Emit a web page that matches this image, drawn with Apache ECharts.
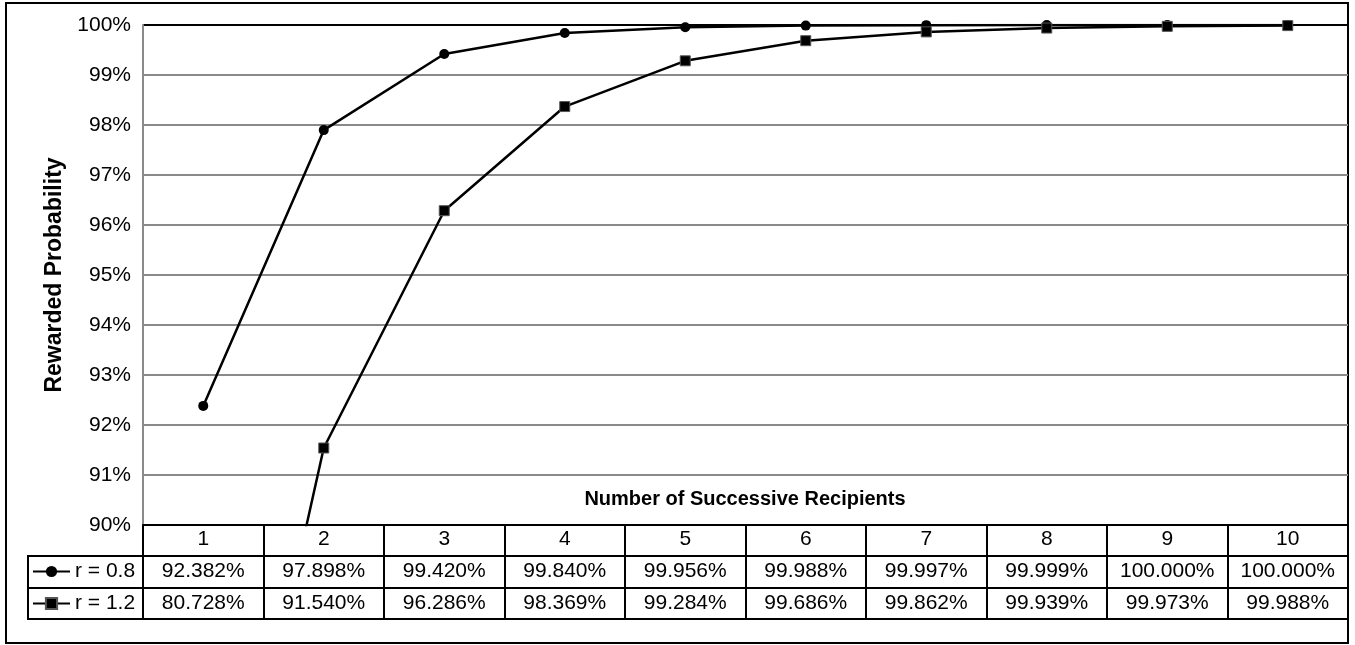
<!DOCTYPE html>
<html>
<head>
<meta charset="utf-8">
<script src="https://cdn.jsdelivr.net/npm/echarts@6/dist/echarts.min.js"></script>
<style>
  html, body { margin: 0; padding: 0; background: #fff; }
  #main { width: 1355px; height: 645px; }
</style>
</head>
<body>
<div id="main"></div>
<script>
const categories = ['1', '2', '3', '4', '5', '6', '7', '8', '9', '10'];
const seriesNames = ['r = 0.8', 'r = 1.2'];
const r08Values = [92.382, 97.898, 99.420, 99.840, 99.956, 99.988, 99.997, 99.999, 100.000, 100.000];
const r12Values = [80.728, 91.540, 96.286, 98.369, 99.284, 99.686, 99.862, 99.939, 99.973, 99.988];
const yMin = 90;
const yMax = 100;
const yStep = 1;

const FONT = "'Liberation Sans', Arial, sans-serif";
const chartDom = document.getElementById('main');
const myChart = echarts.init(chartDom);

// gray gridlines, black one on top (100%)
const gridColors = [];
for (let i = yMin; i < yMax; i += yStep) gridColors.push('#8a8a8a');
gridColors.push('#000');

// extra bottom axes used as the rows of the data table
const tableAxis = (offset, values, margin) => ({
  type: 'category',
  data: categories,
  position: 'bottom',
  offset: offset,
  axisLine: { show: true, lineStyle: { color: '#000', width: 2 } },
  axisTick: { show: false },
  axisLabel: {
    show: values != null,
    interval: 0,
    margin: margin,
    color: '#000',
    fontFamily: FONT,
    fontSize: 21,
    formatter: (v, i) => (values ? values[i].toFixed(3) + '%' : '')
  }
});

const option = {
  animation: false,
  backgroundColor: '#fff',
  textStyle: { fontFamily: FONT },
  grid: { left: 143, right: 7, top: 25, bottom: 120, containLabel: false },
  legend: {
    orient: 'vertical',
    left: 32,
    top: 561,
    padding: 0,
    itemGap: 11,
    itemWidth: 37,
    itemHeight: 14,
    data: seriesNames,
    textStyle: { color: '#000', fontSize: 21, fontFamily: FONT }
  },
  xAxis: [
    {
      type: 'category',
      data: categories,
      position: 'bottom',
      axisLine: { show: true, lineStyle: { color: '#000', width: 2 } },
      axisTick: { show: true, length: 94, lineStyle: { color: '#000', width: 2 } },
      axisLabel: { interval: 0, margin: 4, color: '#000', fontFamily: FONT, fontSize: 21 }
    },
    tableAxis(31, r08Values, 5),
    tableAxis(63, r12Values, 5),
    tableAxis(94, null, 5)
  ],
  yAxis: {
    type: 'value',
    min: yMin,
    max: yMax,
    interval: yStep,
    name: 'Rewarded Probability',
    nameLocation: 'middle',
    nameGap: 75,
    nameTextStyle: { color: '#000', fontSize: 23, fontWeight: 'bold', fontFamily: FONT },
    axisLine: { show: true, lineStyle: { color: '#8a8a8a', width: 2 } },
    axisTick: { show: false },
    axisLabel: { margin: 12, color: '#000', fontSize: 21, fontFamily: FONT, formatter: '{value}%' },
    splitLine: { show: true, lineStyle: { color: gridColors, width: 2 } }
  },
  graphic: [
    {
      type: 'text',
      x: 745,
      y: 499,
      style: {
        text: 'Number of Successive Recipients',
        fill: '#000',
        font: "bold 20px 'Liberation Sans', Arial, sans-serif",
        align: 'center',
        verticalAlign: 'middle'
      }
    },
    {
      type: 'rect',
      shape: { x: 28, y: 556, width: 115, height: 63 },
      style: { fill: null, stroke: '#000', lineWidth: 2 }
    },
    {
      type: 'line',
      shape: { x1: 28, y1: 588, x2: 143, y2: 588 },
      style: { stroke: '#000', lineWidth: 2 }
    },
    {
      type: 'rect',
      shape: { x: 6, y: 3, width: 1342, height: 640 },
      style: { fill: null, stroke: '#000', lineWidth: 2 }
    }
  ],
  series: [
    {
      name: seriesNames[0],
      type: 'line',
      data: r08Values,
      symbol: 'circle',
      symbolSize: 10,
      color: '#000',
      lineStyle: { color: '#000', width: 2.5 },
      itemStyle: { color: '#000' }
    },
    {
      name: seriesNames[1],
      type: 'line',
      data: r12Values,
      symbol: 'rect',
      symbolSize: 10,
      color: '#000',
      lineStyle: { color: '#000', width: 2.5 },
      itemStyle: { color: '#000', borderColor: '#555', borderWidth: 1 }
    }
  ]
};

myChart.setOption(option);
</script>
</body>
</html>
